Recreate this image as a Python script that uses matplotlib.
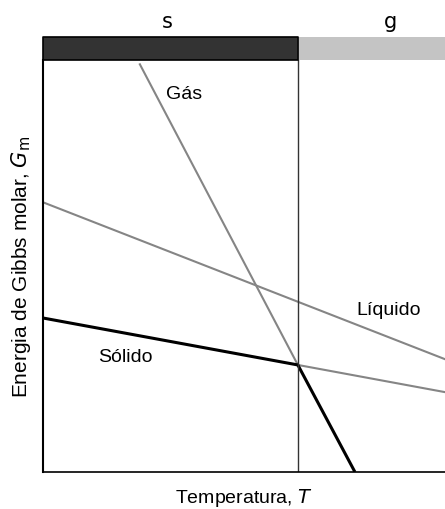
import matplotlib
matplotlib.use("Agg")
import matplotlib.pyplot as plt

plt.rcParams['font.family'] = ['Liberation Sans', 'DejaVu Sans']

# temperatures / Gibbs energies in arbitrary units (axes span 0..100)
T_trans = 63.4

solid_T = [0, T_trans, 100]
solid_G = [37.4, 26.0, 19.4]

gas_T = [24.1, T_trans, 77.6]
gas_G = [99.0, 26.0, 0.0]

liq_T = [0, 100]
liq_G = [65.5, 27.4]

phase_labels = ['s', 'g']
curve_labels = ['Sólido', 'Líquido', 'Gás']
label_pos = [(20.5, 28.0), (86.0, 39.5), (35.0, 92.0)]

fig = plt.figure(figsize=(4.45, 5.10), dpi=100)
ax = fig.add_axes([0.0966, 0.0725, 0.9034, 0.8075])
bar = fig.add_axes([0.0966, 0.880, 0.9034, 0.045], sharex=ax)

gray = '#858585'
# metastable parts in gray
ax.plot(solid_T[1:], solid_G[1:], color=gray, lw=1.5)
ax.plot(gas_T[:2], gas_G[:2], color=gray, lw=1.5)
ax.plot(liq_T, liq_G, color=gray, lw=1.5)
# stable parts in black
ax.plot(solid_T[:2], solid_G[:2], color='black', lw=2.2, solid_capstyle='butt')
ax.plot(gas_T[1:], gas_G[1:], color='black', lw=2.2, solid_capstyle='butt')

ax.axvline(T_trans, color='#333333', lw=1.0)

for txt, (x, y) in zip(curve_labels, label_pos):
    ax.text(x, y, txt, fontsize=14, ha='center', va='center')

ax.set_xlim(0, 100)
ax.set_ylim(0, 100)
ax.set_xticks([])
ax.set_yticks([])
ax.spines['top'].set_visible(False)
ax.spines['right'].set_visible(False)
ax.spines['left'].set_linewidth(1.5)
ax.spines['bottom'].set_linewidth(1.2)
ax.set_xlabel('Temperatura, $T$', fontsize=14, labelpad=10)
ax.set_ylabel('Energia de Gibbs molar, $G_{\\mathrm{m}}$', fontsize=15, labelpad=7)

# phase bar on top
bar.axvspan(0, T_trans, color='#333333')
bar.axvspan(T_trans, 100, color='#c4c4c4')
bar.set_ylim(0, 1)
bar.set_xticks([])
bar.set_yticks([])
for s in bar.spines.values():
    s.set_visible(False)
bar.plot([0, 0, T_trans, T_trans, 0], [0, 1, 1, 0, 0], color='black', lw=1.2, clip_on=False)
bar.text(31, 1.43, phase_labels[0], fontsize=15, ha='center', va='baseline', family='DejaVu Sans')
bar.text(86.5, 1.43, phase_labels[1], fontsize=15, ha='center', va='baseline', family='DejaVu Sans')

fig.savefig('out.png', dpi=100)
